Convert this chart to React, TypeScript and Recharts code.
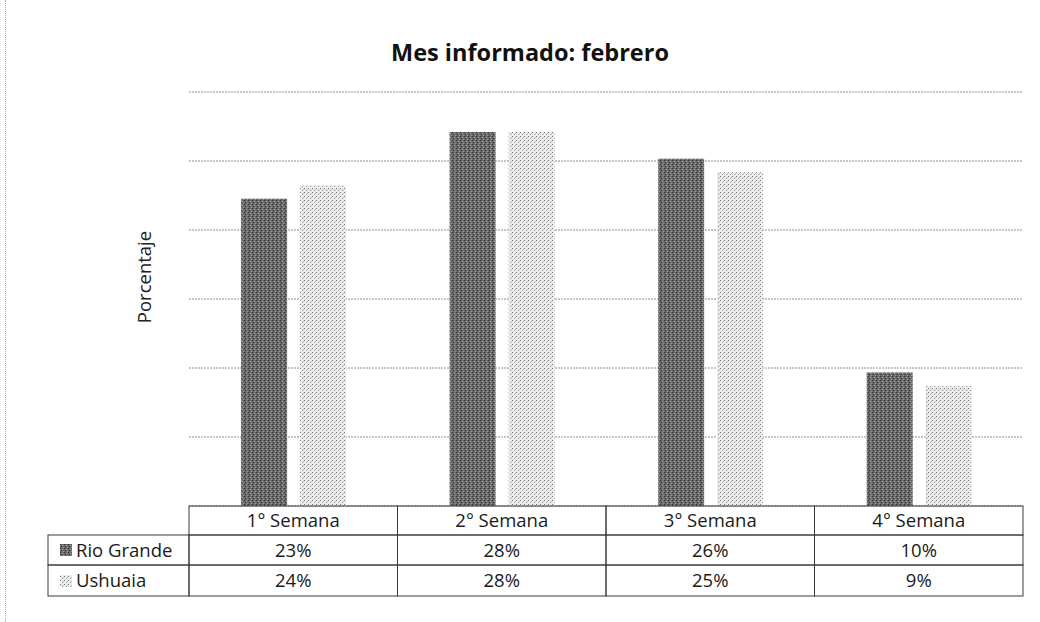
import React from 'react';
import { BarChart, Bar, XAxis, YAxis, CartesianGrid } from 'recharts';

// values
const WEEKS = ['1° Semana', '2° Semana', '3° Semana', '4° Semana'];
const RIO_GRANDE = [23, 28, 26, 10];
const USHUAIA = [24, 28, 25, 9];
const SERIES = ['Rio Grande', 'Ushuaia'];
const Y_MAX = 31;
const GRID_STEPS = 6;

const W = 1040;
const H = 622;
const M = { top: 92, right: 17, left: 189, bottom: 25 };
const COL_W = (W - M.left - M.right) / WEEKS.length;
const LABEL_LEFT = 48;
const ROW_H = [29, 30, 31];
const FONT = '"Open Sans", "Noto Sans", sans-serif';
const BORDER = '#3a3a3a';

const data = WEEKS.map((week, i) => ({ week, rio: RIO_GRANDE[i], ush: USHUAIA[i] }));
const yTicks = Array.from({ length: GRID_STEPS + 1 }, (_, i) => (Y_MAX / GRID_STEPS) * i);

const TableTick = (props: any) => {
  const { x, y, payload } = props;
  const i = WEEKS.indexOf(payload.value);
  const left = x - COL_W / 2;
  const r1 = y + ROW_H[0];
  const r2 = r1 + ROW_H[1];
  const txt = { fontFamily: FONT, fontSize: 18.5, fill: '#1a1a1a' };
  return (
    <g>
      <rect x={left} y={y} width={COL_W} height={ROW_H[0]} fill="none" stroke={BORDER} />
      <text x={x} y={y + 21} textAnchor="middle" {...txt}>{payload.value}</text>
      <rect x={left} y={r1} width={COL_W} height={ROW_H[1]} fill="none" stroke={BORDER} />
      <text x={x} y={r1 + 22} textAnchor="middle" {...txt}>{RIO_GRANDE[i]}%</text>
      <rect x={left} y={r2} width={COL_W} height={ROW_H[2]} fill="none" stroke={BORDER} />
      <text x={x} y={r2 + 22} textAnchor="middle" {...txt}>{USHUAIA[i]}%</text>
      {i === 0 && (
        <g>
          <rect x={LABEL_LEFT} y={r1} width={left - LABEL_LEFT} height={ROW_H[1]} fill="none" stroke={BORDER} />
          <rect x={LABEL_LEFT + 12} y={r1 + 9} width={12} height={12} fill="url(#patRio)" />
          <text x={LABEL_LEFT + 28} y={r1 + 22} {...txt}>{SERIES[0]}</text>
          <rect x={LABEL_LEFT} y={r2} width={left - LABEL_LEFT} height={ROW_H[2]} fill="none" stroke={BORDER} />
          <rect x={LABEL_LEFT + 12} y={r2 + 10} width={12} height={12} fill="url(#patUsh)" />
          <text x={LABEL_LEFT + 28} y={r2 + 22} {...txt}>{SERIES[1]}</text>
        </g>
      )}
    </g>
  );
};

export default function App() {
  return (
    <div style={{ position: 'absolute', left: 0, top: 0, width: W, height: H, background: '#fff', fontFamily: FONT }}>
      <div style={{ position: 'absolute', left: 5, top: 0, height: H, borderLeft: '1px dotted #aaa' }} />
      <div style={{ position: 'absolute', left: 0, width: 1060, top: 36, textAlign: 'center', fontSize: 23.5, fontWeight: 700, color: '#111' }}>
        Mes informado: febrero
      </div>
      <div
        style={{
          position: 'absolute', left: 143, top: 277, fontSize: 18.5, color: '#222',
          transform: 'translate(-50%, -50%) rotate(-90deg)', whiteSpace: 'nowrap',
        }}
      >
        Porcentaje
      </div>
      <BarChart width={W} height={H} data={data} margin={M} barCategoryGap="25%" barGap={13}>
        <defs>
          <pattern id="patRio" width="4" height="4" patternUnits="userSpaceOnUse">
            <rect width="4" height="4" fill="#6a6a6a" />
            <rect x="0" y="0" width="1" height="1" fill="#2e2e2e" />
            <rect x="2" y="1" width="1" height="1" fill="#a8a8a8" />
            <rect x="1" y="2" width="1" height="1" fill="#333" />
            <rect x="3" y="3" width="1" height="1" fill="#9a9a9a" />
          </pattern>
          <pattern id="patUsh" width="4" height="4" patternUnits="userSpaceOnUse">
            <rect width="4" height="4" fill="#ececec" />
            <rect x="0" y="0" width="1" height="1" fill="#777" />
            <rect x="2" y="2" width="1" height="1" fill="#999" />
            <rect x="3" y="1" width="1" height="1" fill="#bbb" />
          </pattern>
        </defs>
        <CartesianGrid vertical={false} stroke="#8c8c8c" strokeDasharray="2 1" />
        <YAxis hide type="number" domain={[0, Y_MAX]} ticks={yTicks} />
        <XAxis
          dataKey="week"
          height={91}
          axisLine={false}
          tickLine={false}
          tickSize={0}
          tickMargin={0}
          interval={0}
          tick={<TableTick />}
        />
        <Bar dataKey="rio" name={SERIES[0]} fill="url(#patRio)" isAnimationActive={false} />
        <Bar dataKey="ush" name={SERIES[1]} fill="url(#patUsh)" isAnimationActive={false} />
      </BarChart>
    </div>
  );
}
